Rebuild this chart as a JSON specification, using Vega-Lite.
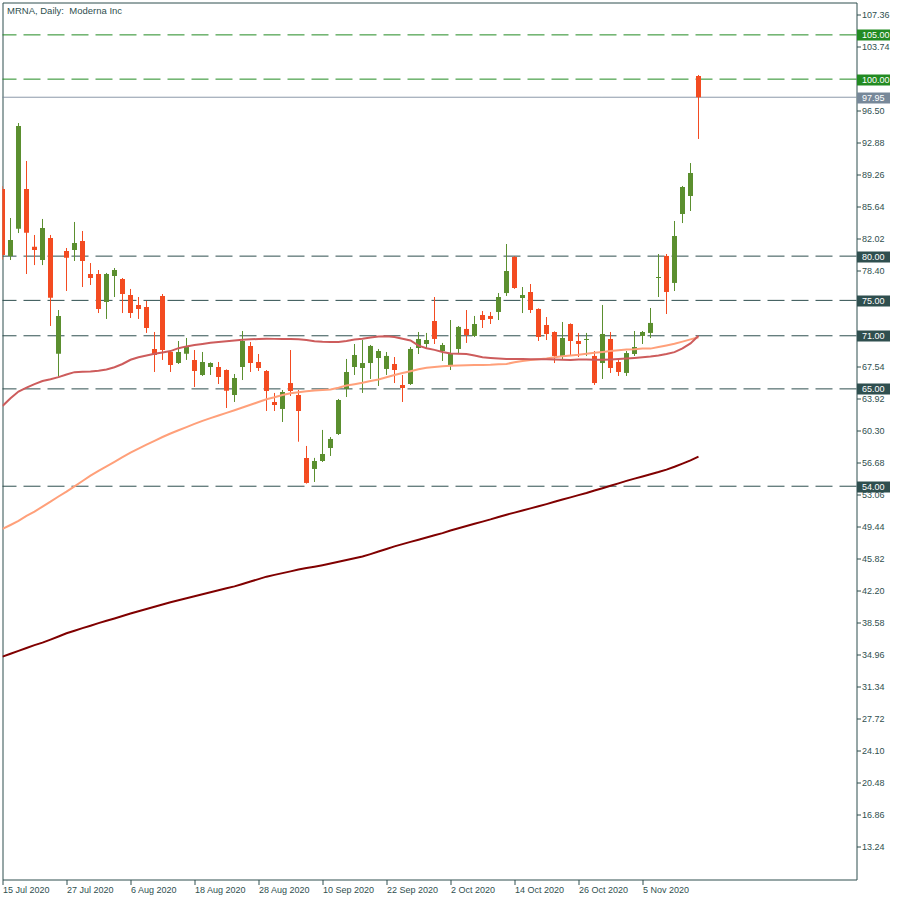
{
  "$schema": "https://vega.github.io/schema/vega-lite/v6.json",
  "width": 854,
  "height": 877,
  "autosize": "none",
  "padding": {"left": 2.5, "top": 2.5, "right": 43.5, "bottom": 20.5},
  "background": "white",
  "config": {"view": {"stroke": "#2F4F4F", "strokeWidth": 1}, "font": "Liberation Sans"},
  "title": {"text": "MRNA, Daily:\u00a0 Moderna Inc", "anchor": "start", "frame": "group", "offset": -21, "baseline": "alphabetic", "dx": 4.5, "font": "Liberation Sans", "fontSize": 9.5, "fontWeight": "normal", "color": "#2F4F4F"},
  "datasets": {
    "levels": [
      {"level": 105, "kind": "green"},
      {"level": 100, "kind": "green"},
      {"level": 97.95, "kind": "bid"},
      {"level": 80, "kind": "dark"},
      {"level": 75, "kind": "dark"},
      {"level": 71, "kind": "dark"},
      {"level": 65, "kind": "dark"},
      {"level": 54, "kind": "dark"}
    ],
    "ohlc": [
      {"date":"15 Jul 2020","open":87.59,"high":87.9,"low":79.6,"close":80.13,"ma50":63.07,"ma100":49.17,"ma200":34.74},
      {"date":"16 Jul 2020","open":80.02,"high":84.31,"low":79.56,"close":81.82,"ma50":63.95,"ma100":49.62,"ma200":35.07},
      {"date":"17 Jul 2020","open":83.10,"high":95.04,"low":82.61,"close":94.70,"ma50":64.70,"ma100":50.09,"ma200":35.40},
      {"date":"20 Jul 2020","open":87.59,"high":90.75,"low":77.98,"close":82.65,"ma50":65.14,"ma100":50.64,"ma200":35.72},
      {"date":"21 Jul 2020","open":81.07,"high":82.39,"low":78.99,"close":80.69,"ma50":65.54,"ma100":51.13,"ma200":36.05},
      {"date":"22 Jul 2020","open":79.56,"high":84.20,"low":78.99,"close":83.18,"ma50":65.89,"ma100":51.70,"ma200":36.33},
      {"date":"23 Jul 2020","open":82.05,"high":82.39,"low":72.11,"close":75.30,"ma50":66.09,"ma100":52.25,"ma200":36.67},
      {"date":"24 Jul 2020","open":68.98,"high":73.91,"low":66.38,"close":73.24,"ma50":66.33,"ma100":52.84,"ma200":37.02},
      {"date":"27 Jul 2020","open":80.58,"high":80.92,"low":76.06,"close":79.82,"ma50":66.63,"ma100":53.39,"ma200":37.38},
      {"date":"28 Jul 2020","open":80.69,"high":83.86,"low":79.45,"close":81.48,"ma50":66.89,"ma100":53.99,"ma200":37.67},
      {"date":"29 Jul 2020","open":81.71,"high":82.84,"low":76.51,"close":79.45,"ma50":66.94,"ma100":54.59,"ma200":37.96},
      {"date":"30 Jul 2020","open":77.98,"high":79.22,"low":76.74,"close":77.53,"ma50":66.95,"ma100":55.19,"ma200":38.24},
      {"date":"31 Jul 2020","open":77.98,"high":78.43,"low":73.57,"close":74.03,"ma50":67.04,"ma100":55.74,"ma200":38.53},
      {"date":"3 Aug 2020","open":74.82,"high":78.10,"low":72.90,"close":77.98,"ma50":67.20,"ma100":56.25,"ma200":38.79},
      {"date":"4 Aug 2020","open":77.76,"high":78.66,"low":75.38,"close":78.43,"ma50":67.45,"ma100":56.76,"ma200":39.06},
      {"date":"5 Aug 2020","open":77.42,"high":77.53,"low":73.57,"close":75.72,"ma50":67.81,"ma100":57.28,"ma200":39.33},
      {"date":"6 Aug 2020","open":75.61,"high":76.29,"low":73.01,"close":73.57,"ma50":68.29,"ma100":57.80,"ma200":39.61},
      {"date":"7 Aug 2020","open":74.48,"high":75.38,"low":72.90,"close":74.03,"ma50":68.58,"ma100":58.25,"ma200":39.87},
      {"date":"10 Aug 2020","open":74.25,"high":74.93,"low":71.32,"close":71.88,"ma50":68.78,"ma100":58.69,"ma200":40.12},
      {"date":"11 Aug 2020","open":69.51,"high":71.43,"low":66.91,"close":68.83,"ma50":68.96,"ma100":59.13,"ma200":40.38},
      {"date":"12 Aug 2020","open":75.50,"high":75.72,"low":68.27,"close":69.39,"ma50":69.12,"ma100":59.56,"ma200":40.64},
      {"date":"13 Aug 2020","open":69.17,"high":69.39,"low":66.91,"close":67.70,"ma50":69.27,"ma100":59.96,"ma200":40.88},
      {"date":"14 Aug 2020","open":67.92,"high":70.41,"low":67.81,"close":69.17,"ma50":69.60,"ma100":60.32,"ma200":41.11},
      {"date":"17 Aug 2020","open":68.98,"high":70.75,"low":68.27,"close":69.73,"ma50":69.80,"ma100":60.68,"ma200":41.34},
      {"date":"18 Aug 2020","open":68.27,"high":69.39,"low":65.21,"close":67.02,"ma50":69.95,"ma100":61.04,"ma200":41.56},
      {"date":"19 Aug 2020","open":66.57,"high":69.17,"low":66.46,"close":68.04,"ma50":70.07,"ma100":61.38,"ma200":41.79},
      {"date":"20 Aug 2020","open":67.47,"high":68.00,"low":66.57,"close":67.92,"ma50":70.20,"ma100":61.69,"ma200":42.02},
      {"date":"21 Aug 2020","open":67.47,"high":68.04,"low":65.55,"close":66.34,"ma50":70.29,"ma100":61.99,"ma200":42.24},
      {"date":"24 Aug 2020","open":67.13,"high":67.20,"low":62.84,"close":64.80,"ma50":70.38,"ma100":62.29,"ma200":42.47},
      {"date":"25 Aug 2020","open":64.31,"high":66.68,"low":63.52,"close":66.23,"ma50":70.46,"ma100":62.58,"ma200":42.68},
      {"date":"26 Aug 2020","open":67.47,"high":71.54,"low":66.00,"close":70.41,"ma50":70.54,"ma100":62.89,"ma200":42.95},
      {"date":"27 Aug 2020","open":69.85,"high":70.30,"low":66.91,"close":67.92,"ma50":70.60,"ma100":63.20,"ma200":43.23},
      {"date":"28 Aug 2020","open":68.04,"high":68.94,"low":67.02,"close":67.36,"ma50":70.64,"ma100":63.51,"ma200":43.50},
      {"date":"31 Aug 2020","open":67.02,"high":67.13,"low":62.50,"close":64.76,"ma50":70.67,"ma100":63.82,"ma200":43.78},
      {"date":"1 Sep 2020","open":63.52,"high":64.54,"low":62.50,"close":63.18,"ma50":70.65,"ma100":64.05,"ma200":43.98},
      {"date":"2 Sep 2020","open":62.73,"high":64.87,"low":61.26,"close":64.65,"ma50":70.64,"ma100":64.31,"ma200":44.18},
      {"date":"3 Sep 2020","open":65.66,"high":69.39,"low":64.20,"close":64.76,"ma50":70.64,"ma100":64.50,"ma200":44.38},
      {"date":"4 Sep 2020","open":64.31,"high":64.87,"low":59.03,"close":62.50,"ma50":70.62,"ma100":64.63,"ma200":44.58},
      {"date":"8 Sep 2020","open":57.19,"high":58.55,"low":54.30,"close":54.37,"ma50":70.51,"ma100":64.74,"ma200":44.75},
      {"date":"9 Sep 2020","open":55.95,"high":57.20,"low":54.48,"close":56.85,"ma50":70.37,"ma100":64.81,"ma200":44.91},
      {"date":"10 Sep 2020","open":56.85,"high":60.36,"low":56.74,"close":57.64,"ma50":70.32,"ma100":64.87,"ma200":45.08},
      {"date":"11 Sep 2020","open":58.32,"high":59.56,"low":57.42,"close":59.34,"ma50":70.31,"ma100":64.93,"ma200":45.26},
      {"date":"14 Sep 2020","open":59.90,"high":63.86,"low":59.79,"close":63.74,"ma50":70.30,"ma100":65.13,"ma200":45.46},
      {"date":"15 Sep 2020","open":64.99,"high":68.38,"low":64.08,"close":66.91,"ma50":70.41,"ma100":65.37,"ma200":45.66},
      {"date":"16 Sep 2020","open":67.47,"high":70.07,"low":66.57,"close":68.83,"ma50":70.57,"ma100":65.53,"ma200":45.86},
      {"date":"17 Sep 2020","open":67.36,"high":70.52,"low":64.54,"close":67.92,"ma50":70.66,"ma100":65.69,"ma200":46.06},
      {"date":"18 Sep 2020","open":67.92,"high":69.96,"low":66.12,"close":69.85,"ma50":70.80,"ma100":65.88,"ma200":46.33},
      {"date":"21 Sep 2020","open":68.49,"high":69.51,"low":65.33,"close":69.28,"ma50":70.91,"ma100":66.07,"ma200":46.62},
      {"date":"22 Sep 2020","open":67.25,"high":69.17,"low":66.57,"close":68.72,"ma50":70.96,"ma100":66.31,"ma200":46.91},
      {"date":"23 Sep 2020","open":67.81,"high":68.60,"low":65.66,"close":67.13,"ma50":70.87,"ma100":66.57,"ma200":47.20},
      {"date":"24 Sep 2020","open":65.44,"high":66.57,"low":63.52,"close":65.10,"ma50":70.66,"ma100":66.80,"ma200":47.46},
      {"date":"25 Sep 2020","open":65.55,"high":69.73,"low":65.44,"close":69.51,"ma50":70.47,"ma100":67.00,"ma200":47.71},
      {"date":"28 Sep 2020","open":69.62,"high":71.43,"low":68.94,"close":70.64,"ma50":69.89,"ma100":67.21,"ma200":47.96},
      {"date":"29 Sep 2020","open":70.07,"high":71.32,"low":69.51,"close":70.52,"ma50":69.59,"ma100":67.39,"ma200":48.20},
      {"date":"30 Sep 2020","open":72.67,"high":75.38,"low":70.07,"close":70.64,"ma50":69.41,"ma100":67.48,"ma200":48.45},
      {"date":"1 Oct 2020","open":69.28,"high":70.19,"low":68.15,"close":69.96,"ma50":69.16,"ma100":67.55,"ma200":48.70},
      {"date":"2 Oct 2020","open":67.70,"high":72.78,"low":67.13,"close":68.94,"ma50":69.00,"ma100":67.61,"ma200":49.00},
      {"date":"5 Oct 2020","open":69.51,"high":72.10,"low":68.94,"close":72.00,"ma50":68.98,"ma100":67.64,"ma200":49.25},
      {"date":"6 Oct 2020","open":71.77,"high":73.91,"low":70.19,"close":71.09,"ma50":68.95,"ma100":67.66,"ma200":49.50},
      {"date":"7 Oct 2020","open":70.98,"high":73.24,"low":70.86,"close":72.33,"ma50":68.77,"ma100":67.69,"ma200":49.75},
      {"date":"8 Oct 2020","open":73.35,"high":73.80,"low":71.88,"close":72.78,"ma50":68.57,"ma100":67.71,"ma200":50.00},
      {"date":"9 Oct 2020","open":73.24,"high":73.69,"low":72.33,"close":72.90,"ma50":68.50,"ma100":67.74,"ma200":50.25},
      {"date":"12 Oct 2020","open":73.69,"high":75.83,"low":72.78,"close":75.38,"ma50":68.43,"ma100":67.79,"ma200":50.53},
      {"date":"13 Oct 2020","open":75.83,"high":81.37,"low":75.50,"close":78.32,"ma50":68.38,"ma100":67.82,"ma200":50.78},
      {"date":"14 Oct 2020","open":79.90,"high":80.00,"low":76.30,"close":76.40,"ma50":68.37,"ma100":68.00,"ma200":51.02},
      {"date":"15 Oct 2020","open":75.27,"high":76.51,"low":73.57,"close":75.61,"ma50":68.37,"ma100":68.16,"ma200":51.26},
      {"date":"16 Oct 2020","open":75.95,"high":76.85,"low":73.57,"close":73.91,"ma50":68.36,"ma100":68.26,"ma200":51.50},
      {"date":"19 Oct 2020","open":74.03,"high":74.10,"low":70.41,"close":70.86,"ma50":68.36,"ma100":68.35,"ma200":51.74},
      {"date":"20 Oct 2020","open":72.22,"high":73.12,"low":70.52,"close":71.20,"ma50":68.34,"ma100":68.44,"ma200":51.98},
      {"date":"21 Oct 2020","open":71.43,"high":71.50,"low":67.92,"close":68.72,"ma50":68.31,"ma100":68.58,"ma200":52.24},
      {"date":"22 Oct 2020","open":68.72,"high":72.56,"low":68.38,"close":70.75,"ma50":68.28,"ma100":68.69,"ma200":52.49},
      {"date":"23 Oct 2020","open":72.33,"high":72.40,"low":68.83,"close":70.41,"ma50":68.26,"ma100":68.78,"ma200":52.74},
      {"date":"26 Oct 2020","open":70.41,"high":71.32,"low":68.60,"close":70.07,"ma50":68.32,"ma100":68.86,"ma200":52.99},
      {"date":"27 Oct 2020","open":70.52,"high":71.32,"low":68.72,"close":70.64,"ma50":68.31,"ma100":68.98,"ma200":53.24},
      {"date":"28 Oct 2020","open":68.72,"high":69.28,"low":65.44,"close":65.66,"ma50":68.28,"ma100":69.08,"ma200":53.52},
      {"date":"29 Oct 2020","open":67.92,"high":74.48,"low":66.12,"close":71.20,"ma50":68.28,"ma100":69.17,"ma200":53.78},
      {"date":"30 Oct 2020","open":70.64,"high":71.43,"low":66.80,"close":67.36,"ma50":68.32,"ma100":69.27,"ma200":54.05},
      {"date":"2 Nov 2020","open":68.04,"high":68.27,"low":66.46,"close":66.91,"ma50":68.37,"ma100":69.37,"ma200":54.32},
      {"date":"3 Nov 2020","open":66.80,"high":69.28,"low":66.46,"close":69.05,"ma50":68.43,"ma100":69.44,"ma200":54.60},
      {"date":"4 Nov 2020","open":68.94,"high":71.54,"low":68.72,"close":69.73,"ma50":68.50,"ma100":69.48,"ma200":54.86},
      {"date":"5 Nov 2020","open":70.98,"high":71.54,"low":70.07,"close":71.43,"ma50":68.57,"ma100":69.55,"ma200":55.10},
      {"date":"6 Nov 2020","open":71.32,"high":74.14,"low":70.75,"close":72.45,"ma50":68.65,"ma100":69.55,"ma200":55.35},
      {"date":"9 Nov 2020","open":77.53,"high":80.24,"low":75.38,"close":77.64,"ma50":68.76,"ma100":69.73,"ma200":55.60},
      {"date":"10 Nov 2020","open":80.02,"high":80.24,"low":73.46,"close":75.95,"ma50":68.93,"ma100":69.91,"ma200":55.88},
      {"date":"11 Nov 2020","open":76.97,"high":83.97,"low":76.06,"close":82.28,"ma50":69.15,"ma100":70.09,"ma200":56.20},
      {"date":"12 Nov 2020","open":84.76,"high":87.93,"low":83.74,"close":87.81,"ma50":69.57,"ma100":70.34,"ma200":56.55},
      {"date":"13 Nov 2020","open":86.79,"high":90.52,"low":85.10,"close":89.39,"ma50":70.14,"ma100":70.59,"ma200":56.92},
      {"date":"16 Nov 2020","open":100.35,"high":100.47,"low":93.24,"close":97.95,"ma50":71.01,"ma100":70.83,"ma200":57.34}
    ]
  },
  "layer": [
    {
      "data": {"name": "levels"},
      "mark": {"type": "rule", "strokeWidth": 1},
      "encoding": {
        "y": {
          "field": "level", "type": "quantitative",
          "scale": {"domain": [9.56, 108.66], "nice": false, "zero": false},
          "axis": {
            "orient": "right", "title": null, "grid": false, "domain": false,
            "tickCount": 200,
            "values": [107.36, 105, 103.74, 100, 97.95, 96.5, 92.88, 89.26, 85.64, 82.02, 80, 78.4, 75, 71, 67.54, 65, 63.92, 60.3, 56.68, 54, 53.06, 49.44, 45.82, 42.2, 38.58, 34.96, 31.34, 27.72, 24.1, 20.48, 16.86, 13.24],
            "format": ".2f",
            "labelOverlap": false, "labelBound": false,
            "labelFont": "Liberation Sans", "labelFontSize": 9,
            "tickSize": 33, "labelPadding": -28,
            "labelColor": {"condition": {"test": "indexof([105,100,97.95,80,75,71,65,54], datum.value) >= 0", "value": "#FFFFFF"}, "value": "#2F4F4F"},
            "tickColor": {"condition": [{"test": "datum.value == 105 || datum.value == 100", "value": "#228B22"}, {"test": "datum.value == 97.95", "value": "#778899"}], "value": "#2F4F4F"},
            "tickWidth": {"condition": {"test": "indexof([105,100,97.95,80,75,71,65,54], datum.value) >= 0", "value": 11}, "value": 1},
            "tickDash": {"condition": {"test": "indexof([105,100,97.95,80,75,71,65,54], datum.value) >= 0", "value": [40, 0]}, "value": [4, 60]}
          }
        },
        "color": {"field": "kind", "type": "nominal", "scale": {"domain": ["green", "bid", "dark"], "range": ["#228B22", "#778899", "#2F4F4F"]}, "legend": null},
        "strokeDash": {"field": "kind", "type": "nominal", "scale": {"domain": ["green", "bid", "dark"], "range": [[17, 7], [1, 0], [17, 7]]}, "legend": null}
      }
    },
    {
      "data": {"name": "ohlc"},
      "mark": {"type": "rule", "strokeWidth": 1, "clip": true},
      "encoding": {
        "x": {
          "field": "date", "type": "ordinal", "sort": null,
          "scale": {"type": "point", "range": [0, 696], "padding": 0},
          "axis": {
            "title": null, "grid": false, "domain": false, "tickCount": 200,
            "values": ["15 Jul 2020", "27 Jul 2020", "6 Aug 2020", "18 Aug 2020", "28 Aug 2020", "10 Sep 2020", "22 Sep 2020", "2 Oct 2020", "14 Oct 2020", "26 Oct 2020", "5 Nov 2020"],
            "labelAngle": 0, "labelAlign": "left", "labelBaseline": "alphabetic", "labelPadding": 8,
            "tickSize": 5, "tickColor": "#2F4F4F", "labelColor": "#2F4F4F",
            "labelFont": "Liberation Sans", "labelFontSize": 9, "labelOverlap": false, "labelBound": false
          }
        },
        "y": {"field": "low", "type": "quantitative", "scale": {"domain": [9.56, 108.66], "nice": false, "zero": false}},
        "y2": {"field": "high"},
        "color": {"condition": {"test": "datum.close >= datum.open", "value": "#5B8F2F"}, "value": "#F34B21"}
      }
    },
    {
      "data": {"name": "ohlc"},
      "mark": {"type": "bar", "size": 5, "clip": true},
      "encoding": {
        "x": {"field": "date", "type": "ordinal", "sort": null},
        "y": {"field": "open", "type": "quantitative", "scale": {"domain": [9.56, 108.66], "nice": false, "zero": false}},
        "y2": {"field": "close"},
        "color": {"condition": {"test": "datum.close >= datum.open", "value": "#5B8F2F"}, "value": "#F34B21"}
      }
    },
    {
      "data": {"name": "ohlc"},
      "mark": {"type": "line", "strokeWidth": 2, "color": "#800000", "clip": true},
      "encoding": {
        "x": {"field": "date", "type": "ordinal", "sort": null},
        "y": {"field": "ma200", "type": "quantitative", "scale": {"domain": [9.56, 108.66], "nice": false, "zero": false}}
      }
    },
    {
      "data": {"name": "ohlc"},
      "mark": {"type": "line", "strokeWidth": 2, "color": "#FFA07A", "clip": true},
      "encoding": {
        "x": {"field": "date", "type": "ordinal", "sort": null},
        "y": {"field": "ma100", "type": "quantitative", "scale": {"domain": [9.56, 108.66], "nice": false, "zero": false}}
      }
    },
    {
      "data": {"name": "ohlc"},
      "mark": {"type": "line", "strokeWidth": 2, "color": "#CD5C5C", "clip": true},
      "encoding": {
        "x": {"field": "date", "type": "ordinal", "sort": null},
        "y": {"field": "ma50", "type": "quantitative", "scale": {"domain": [9.56, 108.66], "nice": false, "zero": false}}
      }
    }
  ]
}
